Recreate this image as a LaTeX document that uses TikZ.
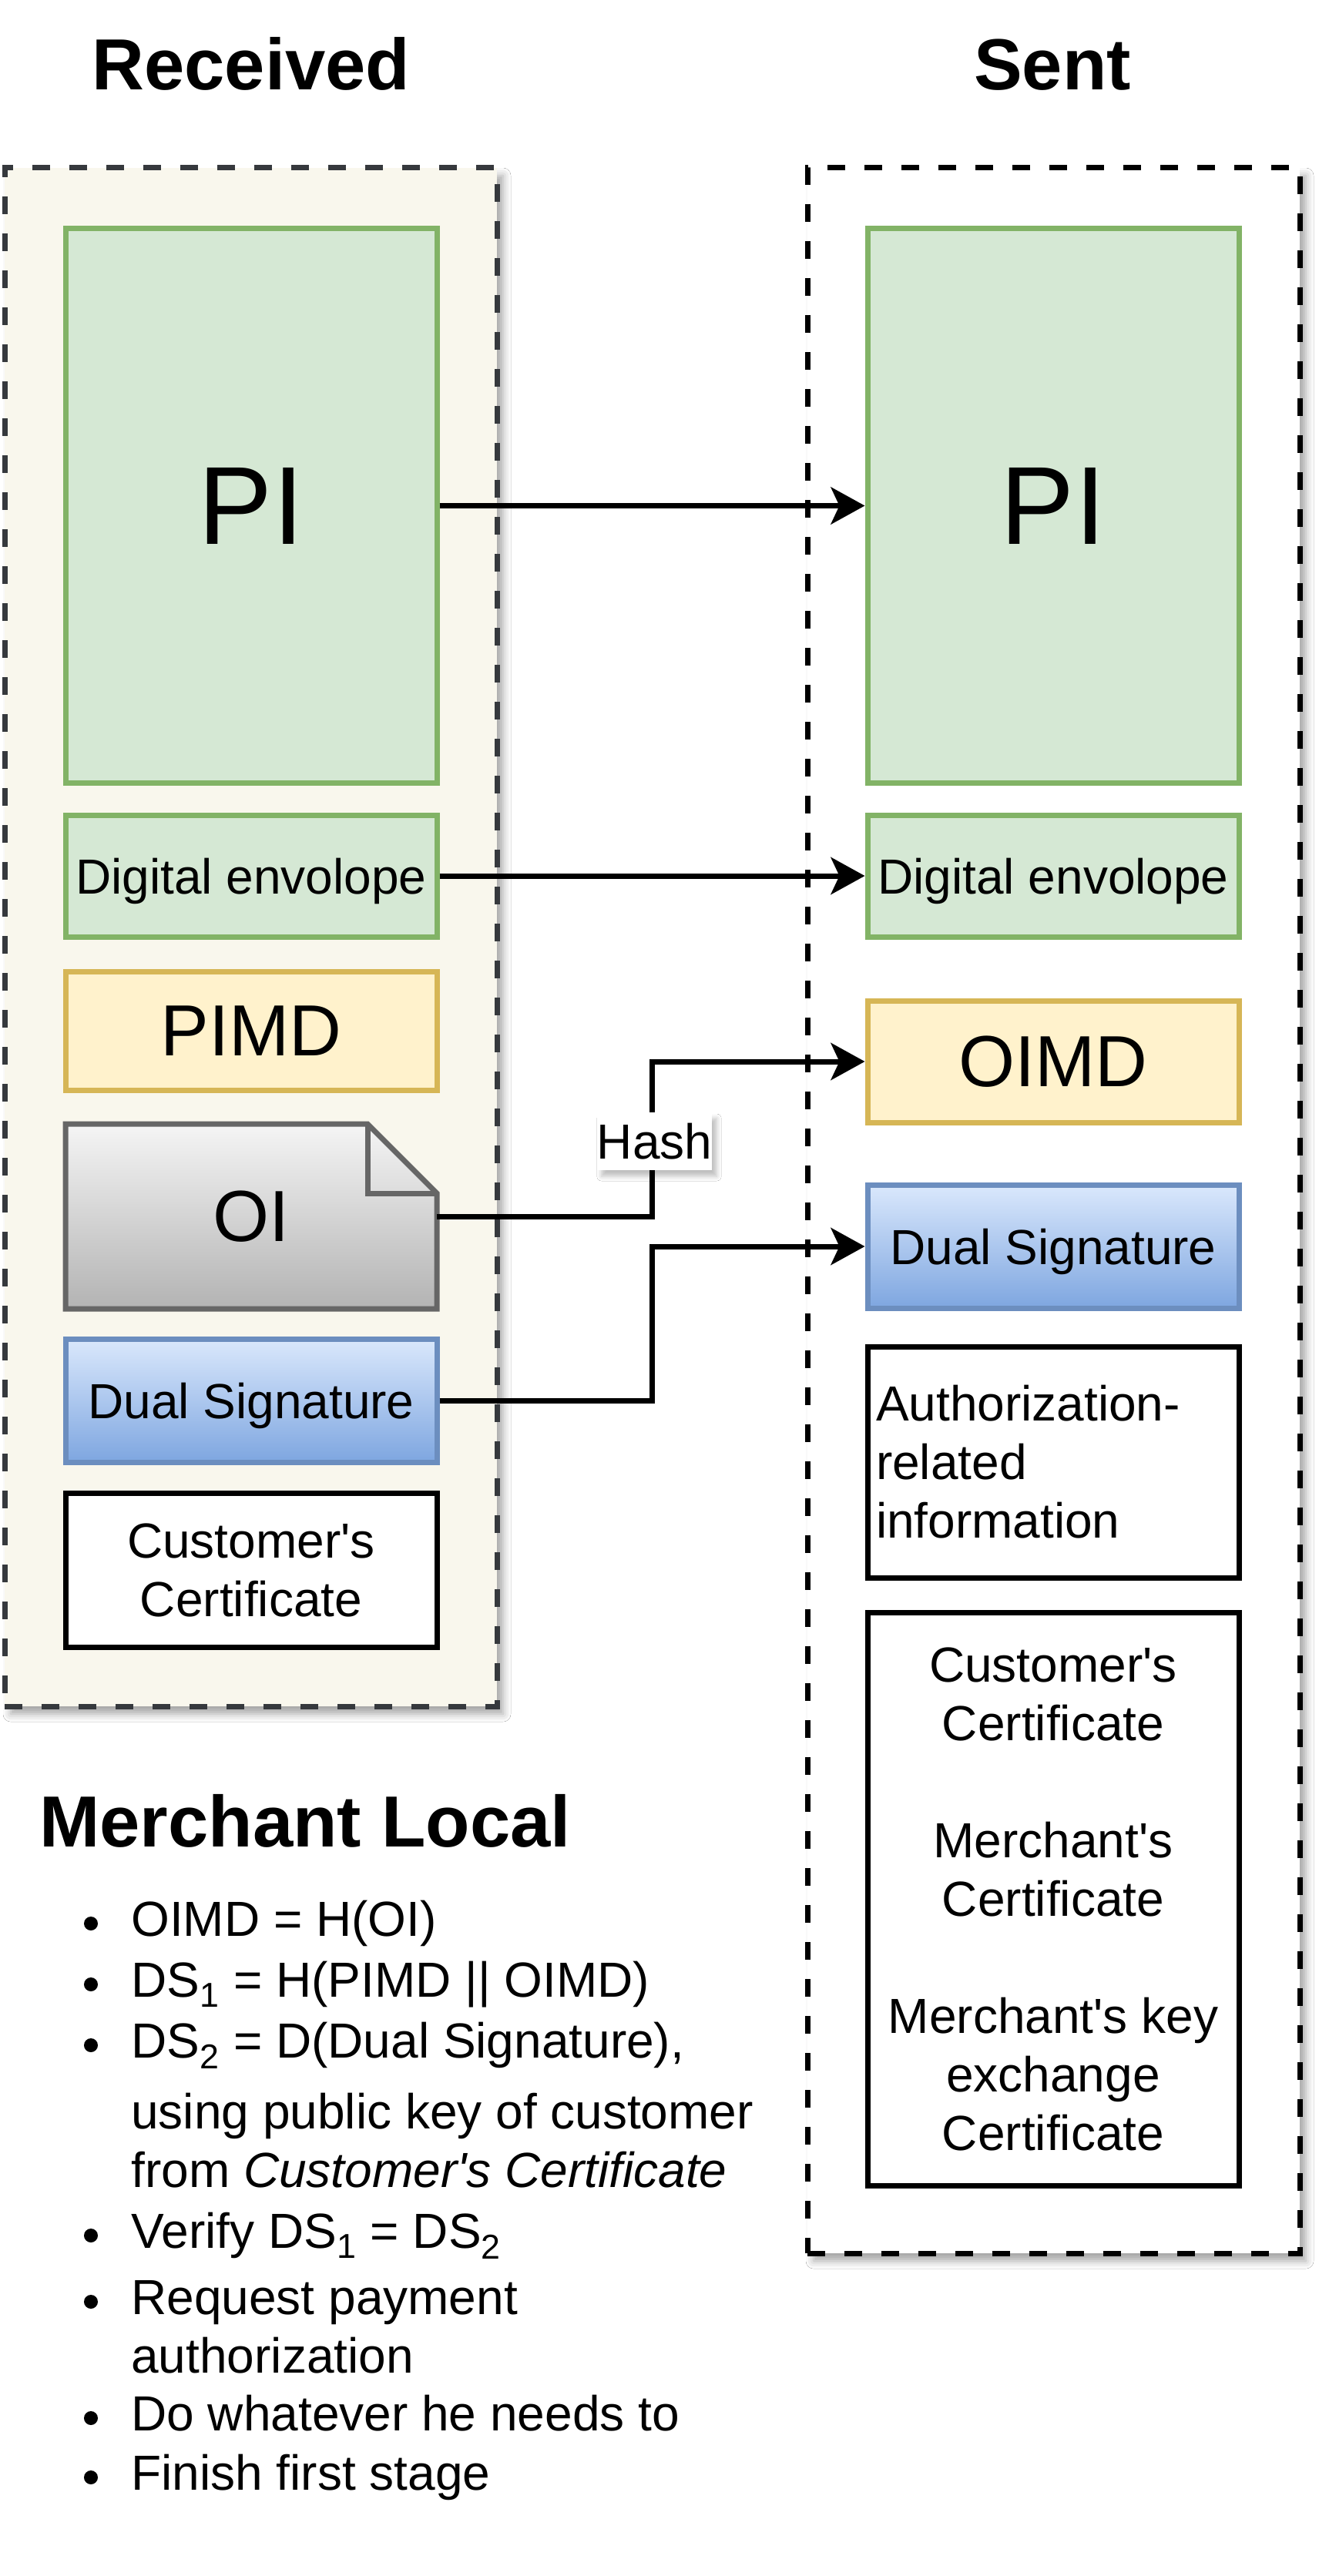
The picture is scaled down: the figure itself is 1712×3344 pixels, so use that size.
\documentclass[tikz,border=0pt]{standalone}
\usepackage{fontspec}
\setmainfont{Liberation Sans}[Ligatures=TeXOff]
\usetikzlibrary{arrows.meta,shadows.blur}
\definecolor{contfill}{HTML}{F9F7ED}
\definecolor{contline}{HTML}{36393D}
\definecolor{gfill}{HTML}{D5E8D4}
\definecolor{gline}{HTML}{82B366}
\definecolor{yfill}{HTML}{FFF2CC}
\definecolor{yline}{HTML}{D6B656}
\definecolor{btop}{HTML}{DAE8FC}
\definecolor{bbot}{HTML}{7EA6E0}
\definecolor{bline}{HTML}{6C8EBF}
\definecolor{ntop}{HTML}{F5F5F5}
\definecolor{nbot}{HTML}{B3B3B3}
\definecolor{nline}{HTML}{666666}
\newcommand\szreg{\fontsize{32}{38}\selectfont}
\newcommand\szmid{\fontsize{47}{56}\selectfont}
\newcommand\szbig{\fontsize{72}{86}\selectfont}
\newcommand\sztitle{\fontsize{47}{56}\selectfont\bfseries}
\begin{document}
\begin{tikzpicture}[x=0.5pt,y=-0.5pt,
  cont/.style={rectangle, line width=3.5pt, dash pattern=on 11.5pt off 12.5pt, inner sep=0pt,
    minimum width=319.5pt,
    blur shadow={shadow xshift=4pt, shadow yshift=-5pt, shadow blur radius=5pt, shadow opacity=35}},
  inbox/.style={rectangle, draw, line width=3.5pt, inner sep=0pt, minimum width=241pt, align=center, font=\szreg},
  oneline/.style={text height=23pt, text depth=0pt},
  gbox/.style={inbox, fill=gfill, draw=gline},
  ybox/.style={inbox, fill=yfill, draw=yline, font=\szmid},
  bbox/.style={inbox, top color=btop, bottom color=bbot, draw=bline},
  wbox/.style={inbox, fill=white, draw=black},
  conn/.style={draw=black, line width=3.5pt, -{Stealth[length=22pt, width=24pt, inset=5.5pt]}},
  ttl/.style={font=\sztitle, inner sep=0pt},
  item/.style={font=\szreg, inner sep=0pt, anchor=base west},
  dot/.style={fill=black}
]
\useasboundingbox (0,0) rectangle (1712,3344);
\fill[white] (0,0) rectangle (1712,3344);

% containers
\node[cont, draw=contline, fill=contfill, minimum height=998.5pt] (recv) at (325.5,1216.5) {};
\node[cont, draw=black, fill=white, minimum height=1353.5pt] (sent) at (1367.5,1571.5) {};

% titles
\node[ttl, anchor=base] (recvT) at (326,117) {Received};
\node[ttl, anchor=base] (sentT) at (1366,117) {Sent};

% left column
\node[gbox, minimum height=359.5pt, font=\szbig] (piL) at (326,656.5) {PI};
\node[gbox, oneline, minimum height=79pt] (deL) at (326,1137) {Digital envolope};
\node[ybox, minimum height=77pt] (pimd) at (326,1338) {PIMD};
\draw[line width=3.5pt, draw=nline, top color=ntop, bottom color=nbot]
  (85,1459) -- (477,1459) -- (567,1549) -- (567,1699) -- (85,1699) -- cycle;
\draw[line width=3.5pt, draw=nline] (477,1459) -- (477,1549) -- (567,1549);
\node[rectangle, inner sep=0pt, minimum width=241pt, minimum height=120pt, font=\szmid] (oi) at (326,1579) {OI};
\node[bbox, oneline, minimum height=80pt] (dsL) at (326,1818) {Dual Signature};
\node[wbox, minimum height=100pt] (ccL) at (326,2038) {Customer's\\Certificate};

% right column
\node[gbox, minimum height=359.5pt, font=\szbig] (piR) at (1367,656.5) {PI};
\node[gbox, oneline, minimum height=79pt] (deR) at (1367,1137) {Digital envolope};
\node[ybox, minimum height=79pt] (oimd) at (1367,1378) {OIMD};
\node[bbox, oneline, minimum height=80pt] (dsR) at (1367,1618) {Dual Signature};
\node[wbox, minimum height=150pt, text width=230pt, inner xsep=5.5pt, align=left] (auth) at (1367,1898) {Authorization-\\related\\information};
\node[wbox, minimum height=372pt] (certs) at (1367,2465) {Customer's\\Certificate\\[38pt]Merchant's\\Certificate\\[38pt]Merchant's key\\exchange\\Certificate};

% connectors
\coordinate (hx) at (846,1500);
\draw[conn] (piL) -- (piR);
\draw[conn] (deL) -- (deR);
\draw[conn] (oi.east) -- (oi.east -| hx) |- (oimd.west);
\draw[conn] (dsL.east) -- (dsL.east -| hx) |- (dsR.west);
\node[fill=white, font=\szreg, inner xsep=0pt, minimum height=37.5pt,
  blur shadow={shadow xshift=3pt, shadow yshift=-4pt, shadow blur radius=3pt, shadow opacity=25}] (hash) at (849.5,1481.5) {Hash};

% merchant local
\node[ttl, anchor=base west] (mlT) at (51,2397) {Merchant Local};
\node[item] (l1) at (170,2513) {OIMD = H(OI)};
\node[item] (l2) at (170,2592) {DS\textsubscript{1} = H(PIMD || OIMD)};
\node[item] (l3) at (170,2671) {DS\textsubscript{2} = D(Dual Signature),};
\node[item] (l4) at (170,2763) {using public key of customer};
\node[item] (l5) at (170,2839) {from \textit{Customer's Certificate}};
\node[item] (l6) at (170,2918) {Verify DS\textsubscript{1} = DS\textsubscript{2}};
\node[item] (l7) at (170,3004) {Request payment};
\node[item] (l8) at (170,3080) {authorization};
\node[item] (l9) at (170,3155) {Do whatever he needs to};
\node[item] (l10) at (170,3232) {Finish first stage};
\foreach \yb in {2513,2592,2671,2918,3004,3155,3232}
  \fill[dot] (118,\yb-16) circle (4.5pt);
\end{tikzpicture}
\end{document}
